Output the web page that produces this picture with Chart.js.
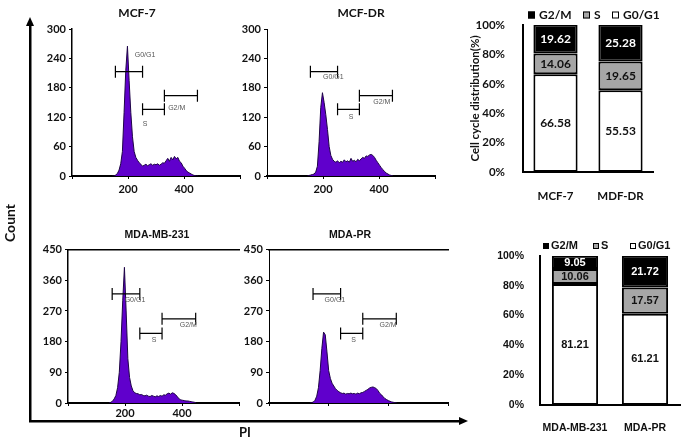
<!DOCTYPE html>
<html>
<head>
<meta charset="utf-8">
<script src="https://cdn.jsdelivr.net/npm/chart.js@4.4.1/dist/chart.umd.min.js"></script>
<style>
  html, body { margin: 0; padding: 0; background: #fff; }
  #wrap { position: relative; width: 692px; height: 446px; overflow: hidden; background: #fff; }
  canvas { position: absolute; }
  .ttl { position: absolute; font-weight: bold; color: #111; white-space: nowrap; transform: translate(-50%, -50%); }
</style>
</head>
<body>
<div id="wrap">
  <canvas id="frame" style="left:0;top:0" width="480" height="446"></canvas>
  <canvas id="h1" style="left:40px;top:15px" width="210" height="190"></canvas>
  <canvas id="h2" style="left:235px;top:15px" width="210" height="190"></canvas>
  <canvas id="h3" style="left:36px;top:240px" width="210" height="190"></canvas>
  <canvas id="h4" style="left:237px;top:240px" width="215" height="190"></canvas>
  <canvas id="b1" style="left:460px;top:0" width="205" height="200"></canvas>
  <canvas id="b2" style="left:460px;top:225px" width="230" height="221"></canvas>
  <div class="ttl" style="left:137px;top:12px;font:bold 12px Lato">MCF-7</div>
  <div class="ttl" style="left:361px;top:12px;font:bold 12px Lato">MCF-DR</div>
  <div class="ttl" style="left:157px;top:234px;font:bold 10.5px 'Liberation Sans'">MDA-MB-231</div>
  <div class="ttl" style="left:350px;top:234px;font:bold 10.5px 'Liberation Sans'">MDA-PR</div>
</div>
<script>
// histogram bins (PI channel) and counts per cell line
const binX = [144,150,156,162,168,174,180,186,192,198,204,210,216,222,228,234,240,246,252,258,264,270,276,282,288,294,300,306,312,318,324,330,336,342,348,354,360,366,372,378,384,390,396,402,408,414,420,426,432,438,444,450];
const mcf7Counts = [0,0,2,5,12,25,50,130,215,265,195,130,80,50,38,32,27,24,20,22,24,21,23,25,22,24,23,25,22,24,27,26,31,36,30,38,33,40,35,38,30,27,20,16,11,8,6,4,2,1,0,0];
const mcfdrCounts = [0,1,2,3,4,8,20,70,140,170,150,125,95,60,42,34,30,28,31,27,30,28,33,29,31,28,36,30,32,29,34,31,35,38,36,41,40,43,44,42,38,32,27,22,17,13,9,6,4,2,1,0];
const mdaCounts = [0,2,5,12,22,45,90,180,300,398,270,130,75,50,36,30,28,27,24,25,22,21,23,20,19,22,20,18,21,19,22,20,24,23,27,29,26,30,28,24,18,12,9,8,7,6,6,5,4,3,2,0];
const mdaprCounts = [0,1,3,8,20,45,95,160,208,200,150,95,72,58,50,42,37,33,30,28,29,26,28,27,29,27,28,26,29,27,30,31,34,37,40,44,46,47,45,42,36,28,24,18,13,10,7,5,3,2,1,0];

// gate markers
const gateNames = ['G0/G1', 'S', 'G2/M'];
const gateFrom = [155, 252, 330];
const gateTo = [252, 330, 448];
const mcf7GateY = [213, 136, 164];
const mcfdrGateY = [213, 136, 164];
const mdaGateY = [320, 204, 247];
const mdaprGateY = [320, 204, 247];
const mcf7LabelX = [261, 261, 374], mcf7LabelY = [247, 106, 138];
const mcfdrLabelX = [237, 300, 410], mcfdrLabelY = [201, 121, 150];
const mdaLabelX = [235, 302, 422], mdaLabelY = [301, 186, 228];
const mdaprLabelX = [232, 298, 419], mdaprLabelY = [301, 186, 228];

// cell cycle distribution (%)
const topCats = ['MCF-7', 'MDF-DR'];
const topG0G1 = [66.58, 55.53];
const topS = [14.06, 19.65];
const topG2M = [19.62, 25.28];
const botCats = ['MDA-MB-231', 'MDA-PR'];
const botG0G1 = [81.21, 61.21];
const botS = [10.06, 17.57];
const botG2M = [9.05, 21.72];

const ink = '#111';

const arrowPlugin = {
  id: 'arrows',
  afterDraw(chart) {
    const { ctx, chartArea: a } = chart;
    ctx.save();
    ctx.fillStyle = '#000';
    ctx.beginPath();
    ctx.moveTo(a.left, a.top - 8); ctx.lineTo(a.left - 4, a.top + 1); ctx.lineTo(a.left + 4, a.top + 1);
    ctx.closePath(); ctx.fill();
    ctx.beginPath();
    ctx.moveTo(a.right + 8, a.bottom); ctx.lineTo(a.right - 1, a.bottom - 4); ctx.lineTo(a.right - 1, a.bottom + 4);
    ctx.closePath(); ctx.fill();
    ctx.restore();
  }
};

// bracket gates with their labels
const gatePlugin = {
  id: 'gates',
  afterDatasetsDraw(chart, args, opts) {
    const { ctx, scales: { x, y } } = chart;
    ctx.save();
    gateNames.forEach((name, i) => {
      const x1 = x.getPixelForValue(gateFrom[i]);
      const x2 = x.getPixelForValue(gateTo[i]);
      const yy = y.getPixelForValue(opts.levels[i]);
      ctx.strokeStyle = '#000';
      ctx.lineWidth = 1.2;
      ctx.beginPath();
      ctx.moveTo(x1, yy); ctx.lineTo(x2, yy);
      ctx.moveTo(x1, yy - 6); ctx.lineTo(x1, yy + 6);
      ctx.moveTo(x2, yy - 6); ctx.lineTo(x2, yy + 6);
      ctx.stroke();
      ctx.fillStyle = '#555';
      ctx.font = '7px "Liberation Sans"';
      ctx.textAlign = 'center';
      ctx.textBaseline = 'middle';
      ctx.fillText(name, x.getPixelForValue(opts.lx[i]), y.getPixelForValue(opts.ly[i]));
    });
    ctx.restore();
  }
};

const barLabels = {
  id: 'barLabels',
  afterDatasetsDraw(chart, args, opts) {
    const ctx = chart.ctx;
    ctx.save();
    ctx.font = opts.font;
    ctx.textAlign = 'center';
    ctx.textBaseline = 'middle';
    chart.data.datasets.forEach((ds, di) => {
      ctx.fillStyle = opts.colors[di];
      chart.getDatasetMeta(di).data.forEach((bar, i) => {
        const top = Math.max(bar.y, chart.chartArea.top);
        ctx.fillText(ds.data[i].toFixed(2), bar.x, (top + bar.base) / 2);
      });
    });
    ctx.restore();
  }
};

const stackLegend = {
  id: 'stackLegend',
  afterDraw(chart, args, opts) {
    const ctx = chart.ctx;
    const n = chart.data.datasets.length;
    ctx.save();
    ctx.font = opts.font;
    ctx.textAlign = 'left';
    ctx.textBaseline = 'middle';
    opts.xs.forEach((x0, k) => {
      const ds = chart.data.datasets[n - 1 - k];
      ctx.fillStyle = ds.backgroundColor;
      ctx.fillRect(x0, opts.y - opts.box / 2, opts.box, opts.box);
      ctx.strokeStyle = '#000';
      ctx.lineWidth = 1;
      ctx.strokeRect(x0 + 0.5, opts.y - opts.box / 2 + 0.5, opts.box - 1, opts.box - 1);
      ctx.fillStyle = ink;
      ctx.fillText(ds.label, x0 + opts.box + opts.gap, opts.y);
    });
    ctx.restore();
  }
};

// big Count / PI axes
new Chart(document.getElementById('frame'), {
  type: 'scatter',
  data: { datasets: [] },
  options: {
    responsive: false, animation: false,
    layout: { padding: { top: 25, right: 20, left: 0, bottom: 0 } },
    plugins: { legend: { display: false }, tooltip: { enabled: false } },
    scales: {
      x: {
        min: 0, max: 1, afterFit: s => { s.height = 25; },
        ticks: { display: false }, grid: { display: false },
        border: { color: '#000', width: 2.5 },
        title: { display: true, text: 'PI', color: ink, font: { family: 'Lato', size: 13, weight: 'bold' }, padding: { top: 0, bottom: 5 } }
      },
      y: {
        min: 0, max: 1, afterFit: s => { s.width = 30; },
        ticks: { display: false }, grid: { display: false },
        border: { color: '#000', width: 2.5 },
        title: { display: true, text: 'Count', color: ink, font: { family: 'Lato', size: 14, weight: 'bold' }, padding: { top: 2, bottom: 0 } }
      }
    }
  },
  plugins: [arrowPlugin]
});

function makeHist(id, o) {
  const tickFont = { family: 'Lato', size: 11, weight: 'bold' };
  const scales = {
    x: {
      type: 'linear', min: 0, max: o.xMax, z: 1,
      afterFit: s => { s.height = o.xH; },
      ticks: { stepSize: 200, includeBounds: false, autoSkip: false, maxRotation: 0, padding: o.xPad, color: ink, font: tickFont,
               callback: v => (v === 200 || v === 400) ? v : '' },
      grid: { drawOnChartArea: false, tickLength: 3, color: '#000' },
      border: { color: '#000', width: 2 }
    },
    y: {
      min: 0, max: o.yMax,
      afterFit: s => { s.width = 32; },
      ticks: { stepSize: o.yStep, padding: 3, color: ink, font: tickFont },
      grid: { drawOnChartArea: false, tickLength: 3, color: '#000' },
      border: { color: '#000', width: o.dotted ? 1 : 1.5, dash: o.dotted ? [1, 2] : [] }
    }
  };
  if (o.topLine) {
    scales.xTop = {
      type: 'linear', position: 'top', min: 0, max: o.xMax,
      afterFit: s => { s.height = 0; },
      ticks: { display: false }, grid: { display: false },
      border: { color: '#000', width: 1.5 }
    };
  }
  new Chart(document.getElementById(id), {
    type: 'line',
    data: {
      datasets: [{
        data: binX.map((x, i) => ({ x: x, y: o.counts[i] })),
        borderColor: '#1e0446', borderWidth: 1,
        backgroundColor: '#6000cc', fill: 'origin',
        pointRadius: 0, tension: 0
      }]
    },
    options: {
      responsive: false, animation: false,
      layout: { padding: o.pad },
      plugins: {
        legend: { display: false }, tooltip: { enabled: false },
        gates: { levels: o.gateY, lx: o.labX, ly: o.labY }
      },
      scales: scales
    },
    plugins: [gatePlugin]
  });
}

makeHist('h1', { counts: mcf7Counts, yMax: 300, yStep: 60, xMax: 600, xH: 29, xPad: 4,
  pad: { top: 14, right: 10, left: 0, bottom: 0 }, gateY: mcf7GateY, labX: mcf7LabelX, labY: mcf7LabelY });
makeHist('h2', { counts: mcfdrCounts, yMax: 300, yStep: 60, xMax: 600, xH: 29, xPad: 4, dotted: true,
  pad: { top: 14, right: 10, left: 0, bottom: 0 }, gateY: mcfdrGateY, labX: mcfdrLabelX, labY: mcfdrLabelY });
makeHist('h3', { counts: mdaCounts, yMax: 450, yStep: 90, xMax: 600, xH: 27, xPad: 1, topLine: true,
  pad: { top: 9, right: 7, left: 0, bottom: 0 }, gateY: mdaGateY, labX: mdaLabelX, labY: mdaLabelY });
makeHist('h4', { counts: mdaprCounts, yMax: 450, yStep: 90, xMax: 630, xH: 27, xPad: 1, topLine: true, dotted: true,
  pad: { top: 9, right: 4, left: 0, bottom: 0 }, gateY: mdaprGateY, labX: mdaprLabelX, labY: mdaprLabelY });

function makeStack(id, o) {
  const sets = [
    { label: 'G0/G1', data: o.g0, backgroundColor: '#ffffff' },
    { label: 'S', data: o.s, backgroundColor: '#a6a6a6' },
    { label: 'G2/M', data: o.g2, backgroundColor: '#000000' }
  ].map(d => Object.assign(d, { borderColor: '#000', borderWidth: 2, borderSkipped: false,
    barPercentage: o.barPct, categoryPercentage: 1 }));
  new Chart(document.getElementById(id), {
    type: 'bar',
    data: { labels: o.cats, datasets: sets },
    options: {
      responsive: false, animation: false,
      layout: { padding: o.pad },
      plugins: {
        legend: { display: false }, tooltip: { enabled: false },
        barLabels: { font: o.valFont, colors: ['#111', '#111', '#fff'] },
        stackLegend: { xs: o.legX, y: o.legY, box: o.box, gap: o.gap, font: o.legFont }
      },
      scales: {
        x: {
          stacked: true,
          afterFit: s => { s.height = o.xH; },
          ticks: { padding: o.xPad, color: ink, font: o.tickFont, maxRotation: 0, minRotation: 0, autoSkip: false },
          grid: { display: false },
          border: { color: '#000', width: 2 }
        },
        y: {
          stacked: true, min: 0, max: 100,
          afterFit: s => { s.width = o.yW; },
          ticks: { stepSize: 20, padding: o.yPad, color: ink, font: o.tickFont, callback: v => v + '%' },
          grid: { display: false },
          border: { color: '#000', width: 2 },
          title: o.yTitle ? { display: true, text: o.yTitle, color: ink, font: o.tickFont, padding: { top: 8, bottom: 0 } } : { display: false }
        }
      }
    },
    plugins: [barLabels, stackLegend]
  });
}

makeStack('b1', {
  cats: topCats, g0: topG0G1, s: topS, g2: topG2M, barPct: 0.68,
  pad: { top: 25, right: 12, left: 0, bottom: 0 }, xH: 28, yW: 63, xPad: 9, yPad: 10,
  tickFont: { family: 'Lato', size: 11.5, weight: 'bold' },
  valFont: 'bold 12px Lato',
  legFont: 'bold 12px Lato', legX: [68, 123, 152], legY: 15, box: 7, gap: 4,
  yTitle: 'Cell cycle distribution(%)'
});
makeStack('b2', {
  cats: botCats, g0: botG0G1, s: botS, g2: botG2M, barPct: 0.66,
  pad: { top: 31, right: 10, left: 0, bottom: 0 }, xH: 41, yW: 80, xPad: 9, yPad: 8,
  tickFont: { family: 'Liberation Sans', size: 10.5, weight: 'bold' },
  valFont: 'bold 11px "Liberation Sans"',
  legFont: 'bold 11px "Liberation Sans"', legX: [83, 133, 170], legY: 21, box: 6, gap: 2
});
</script>
</body>
</html>
